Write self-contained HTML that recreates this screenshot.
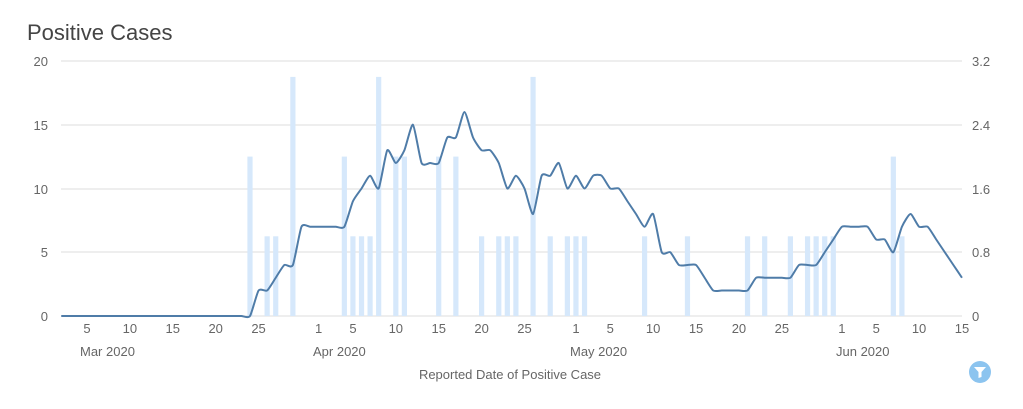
<!DOCTYPE html>
<html><head><meta charset="utf-8"><style>
body{margin:0;background:#fff;font-family:"Liberation Sans",sans-serif;}
svg text{font-family:"Liberation Sans",sans-serif;}
</style></head><body>
<svg id="s" width="1023" height="404" xmlns="http://www.w3.org/2000/svg">
<text x="27" y="40" font-size="22" fill="#444">Positive Cases</text>
<g stroke="#e3e3e3" stroke-width="1.3">
<line x1="61" x2="962" y1="61" y2="61"/><line x1="61" x2="962" y1="125" y2="125"/>
<line x1="61" x2="962" y1="189" y2="189"/><line x1="61" x2="962" y1="252" y2="252"/>
<line x1="61" x2="962" y1="316" y2="316"/></g>
<g font-size="13" fill="#666" text-anchor="end">
<text x="48" y="66">20</text><text x="48" y="130">15</text><text x="48" y="194">10</text><text x="48" y="257">5</text><text x="48" y="321">0</text></g>
<g font-size="13" fill="#666">
<text x="972" y="66">3.2</text><text x="972" y="130">2.4</text><text x="972" y="194">1.6</text><text x="972" y="257">0.8</text><text x="972" y="321">0</text></g>
<g id="bars" fill="#d6e8fb"></g>
<path id="ln" fill="none" stroke="#4f7ca8" stroke-width="2"/>
<g id="ticks" font-size="13" fill="#666" text-anchor="middle"></g>
<g font-size="13" fill="#666">
<text x="80" y="356">Mar 2020</text><text x="313" y="356">Apr 2020</text>
<text x="570" y="356">May 2020</text><text x="836" y="356">Jun 2020</text></g>
<text x="510" y="379" font-size="13" fill="#666" text-anchor="middle">Reported Date of Positive Case</text>
<circle cx="980" cy="372" r="11" fill="#8cc4ef"/>
<path d="M974 367 L986 367 L981.5 372 L981.5 377 L978.5 378 L978.5 372 Z" fill="#fff"/>
</svg>
<script>
var X=function(d){return 52.7+8.578*d;};
var Y=function(v){return 316-12.75*v;};
var bars={23:2,25:1,26:1,28:3,34:2,35:1,36:1,37:1,38:3,40:2,41:2,45:2,47:2,50:1,52:1,53:1,54:1,56:3,58:1,60:1,61:1,62:1,69:1,74:1,81:1,83:1,86:1,88:1,89:1,90:1,91:1,98:2,99:1};
var bg=document.getElementById('bars'),h='';
for(var k in bars){var x=X(+k),t=316-bars[k]*79.7;h+='<rect x="'+(x-2.6)+'" y="'+t+'" width="5.2" height="'+(316-t)+'"/>';}
bg.innerHTML=h;
var v=[];for(var i=1;i<=23;i++)v.push([i,0]);
var rest={24:2,25:2,26:3,27:4,28:4,29:7,30:7,31:7,32:7,33:7,34:7,35:9,36:10,37:11,38:10,39:13,40:12,41:13,42:15,43:12,44:12,45:12,46:14,47:14,48:16,49:14,50:13,51:13,52:12,53:10,54:11,55:10,56:8,57:11,58:11,59:12,60:10,61:11,62:10,63:11,64:11,65:10,66:10,67:9,68:8,69:7,70:8,71:5,72:5,73:4,74:4,75:4,76:3,77:2,78:2,79:2,80:2,81:2,82:3,83:3,84:3,85:3,86:3,87:4,88:4,89:4,90:5,91:6,92:7,93:7,94:7,95:7,96:6,97:6,98:5,99:7,100:8,101:7,102:7,103:6,104:5,105:4,106:3};
for(var k in rest)v.push([+k,rest[k]]);
var p=v.map(function(a){return [X(a[0]),Y(a[1])];});
var d='M'+p[0][0]+' '+p[0][1];
for(var i=0;i<p.length-1;i++){var p0=p[Math.max(0,i-1)],p1=p[i],p2=p[i+1],p3=p[Math.min(p.length-1,i+2)];
var t=0.1;d+=' C'+(p1[0]+(p2[0]-p0[0])*t)+' '+(p1[1]+(p2[1]-p0[1])*t)+' '+(p2[0]-(p3[0]-p1[0])*t)+' '+(p2[1]-(p3[1]-p1[1])*t)+' '+p2[0]+' '+p2[1];}
document.getElementById('ln').setAttribute('d',d);
var tk=[[4,'5'],[9,'10'],[14,'15'],[19,'20'],[24,'25'],[31,'1'],[35,'5'],[40,'10'],[45,'15'],[50,'20'],[55,'25'],[61,'1'],[65,'5'],[70,'10'],[75,'15'],[80,'20'],[85,'25'],[92,'1'],[96,'5'],[101,'10'],[106,'15']];
var th='';tk.forEach(function(a){th+='<text x="'+X(a[0])+'" y="333">'+a[1]+'</text>';});
document.getElementById('ticks').innerHTML=th;
</script>
</body></html>
